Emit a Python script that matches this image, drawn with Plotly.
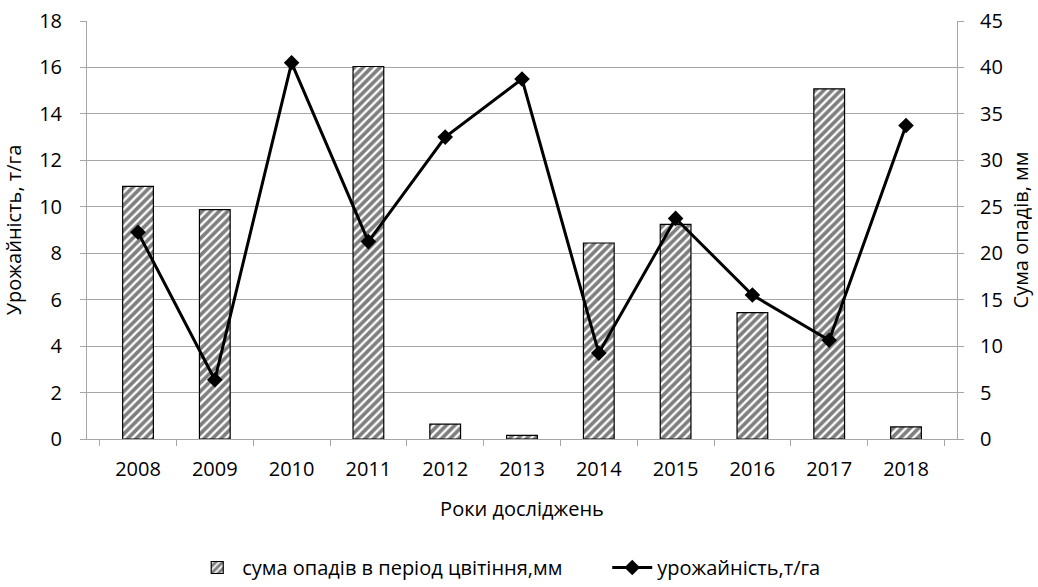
import plotly.graph_objects as go

years = ["2008", "2009", "2010", "2011", "2012", "2013", "2014", "2015", "2016", "2017", "2018"]
precip_mm = [27.2, 24.7, None, 40.1, 1.6, 0.4, 21.1, 23.1, 13.6, 37.7, 1.3]
yield_t_ha = [8.9, 2.55, 16.2, 8.5, 13.0, 15.5, 3.7, 9.5, 6.2, 4.25, 13.5]

FONT = "Open Sans"
FS = 20
GRID = "#a6a6a6"

fig = go.Figure()

# Precipitation bars on the right-hand axis (primary y so the line is drawn above them)
fig.add_trace(go.Bar(
    x=years, y=precip_mm, yaxis="y",
    name="сума опадів в період цвітіння,мм",
    width=0.4,
    marker=dict(
        color="white",
        line=dict(color="black", width=1.2),
        pattern=dict(shape="/", fgcolor="black", bgcolor="white", size=6, solidity=0.62),
    ),
))

# Yield line on the left-hand axis
fig.add_trace(go.Scatter(
    x=years, y=yield_t_ha, yaxis="y2",
    name="урожайність,т/га",
    mode="lines+markers",
    line=dict(color="black", width=3),
    marker=dict(symbol="diamond", size=12, color="black"),
))

fig.update_layout(
    width=1038, height=587,
    margin=dict(l=87, r=81, t=21, b=148, autoexpand=False),
    paper_bgcolor="white", plot_bgcolor="white",
    font=dict(family=FONT, size=FS, color="black"),
    showlegend=True,
    legend=dict(orientation="h", xref="container", x=0.585, xanchor="center",
                yref="container", y=-0.015, yanchor="bottom",
                font=dict(size=FS), traceorder="normal", itemwidth=40,
                entrywidth=360, entrywidthmode="pixels"),
    xaxis=dict(
        type="category", showline=True, linecolor=GRID, linewidth=1,
        ticks="outside", tickson="boundaries", ticklen=6, tickcolor=GRID,
        ticklabelstandoff=12,
        showgrid=False,
        title=dict(text="Роки досліджень", standoff=20, font=dict(size=FS)),
    ),
    yaxis=dict(
        range=[0, 45], dtick=5, side="right", showgrid=True, gridcolor=GRID, gridwidth=1,
        showline=True, linecolor=GRID, ticks="outside", ticklen=6, tickcolor=GRID,
        ticklabelstandoff=12,
        zeroline=False,
        title=dict(text="Сума опадів, мм", standoff=12, font=dict(size=FS)),
    ),
    yaxis2=dict(
        range=[0, 18], dtick=2, overlaying="y", side="left", showgrid=False,
        showline=True, linecolor=GRID, ticks="outside", ticklen=6, tickcolor=GRID,
        ticklabelstandoff=14,
        zeroline=False,
        title=dict(text="Урожайність, т/га", standoff=12, font=dict(size=FS)),
    ),
)

fig.write_html("out.html")
